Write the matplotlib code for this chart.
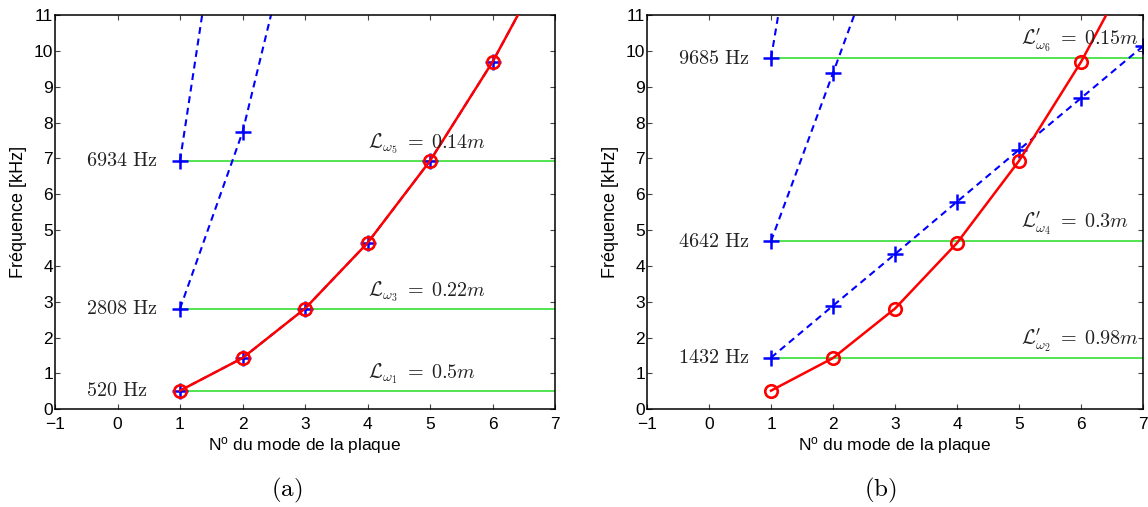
import matplotlib
matplotlib.use('Agg')
import matplotlib.pyplot as plt

plt.rcParams['font.family'] = ['Liberation Sans', 'DejaVu Sans']
plt.rcParams['mathtext.fontset'] = 'custom'
plt.rcParams['mathtext.rm'] = 'Liberation Sans'
plt.rcParams['mathtext.it'] = 'Liberation Sans:italic'

# ---------------- data ----------------
modes = [1, 2, 3, 4, 5, 6, 7]
plate_freq = [0.52, 1.43, 2.81, 4.64, 6.93, 9.69, 12.91]   # kHz (red)

# panel (a) blue branches
a_branch1 = [0.52, 1.43, 2.81, 4.64, 6.93, 9.69, 12.91]
a_branch2_x = [1, 2, 3]
a_branch2 = [2.808, 7.73, 14.9]
a_branch3_x = [1, 2]
a_branch3 = [6.934, 18.4]
a_levels = [0.52, 2.808, 6.934]
a_hz_labels = ['520 Hz', '2808 Hz', '6934 Hz']
a_L_labels = [r'$\mathcal{L}_{\omega_1}\;=\;0.5m$',
              r'$\mathcal{L}_{\omega_3}\;=\;0.22m$',
              r'$\mathcal{L}_{\omega_5}\;=\;0.14m$']

# panel (b) blue branches
b_branch1 = [1.44, 2.89, 4.33, 5.79, 7.24, 8.68, 10.13]
b_branch2_x = [1, 2, 3]
b_branch2 = [4.69, 9.38, 14.1]
b_branch3_x = [1, 2]
b_branch3 = [9.79, 20.1]
b_levels = [1.44, 4.69, 9.79]
b_hz_labels = ['1432 Hz', '4642 Hz', '9685 Hz']
b_L_labels = [r"$\mathcal{L}^{\prime}_{\omega_2}\;=\;0.98m$",
              r"$\mathcal{L}^{\prime}_{\omega_4}\;=\;0.3m$",
              r"$\mathcal{L}^{\prime}_{\omega_6}\;=\;0.15m$"]

xticks = list(range(-1, 8))
yticks = list(range(0, 12))

W, H = 1148, 507
fig = plt.figure(figsize=(W / 100, H / 100), dpi=100)

GREEN = '#44e044'
BLUE = '#0000ff'
RED = '#ff0000'
DASH = (0, (3.3, 2.3))


def frac(l, r, t, b):
    return [l / W, 1 - b / H, (r - l) / W, (b - t) / H]


def style(ax):
    ax.set_xlim(-1, 7)
    ax.set_ylim(0, 11)
    ax.set_xticks(xticks)
    ax.set_yticks(yticks)
    ax.set_xticklabels([('\u2212' + str(-v)) if v < 0 else str(v) for v in xticks])
    ax.tick_params(direction='in', top=True, right=True, length=3.5, width=0.8,
                   color='#444444', labelsize=12.5)
    ax.tick_params(axis='x', pad=5.5)
    ax.tick_params(axis='y', pad=1.5)
    for s in ax.spines.values():
        s.set_linewidth(1.1)
    ax.set_ylabel('Fréquence [kHz]', fontsize=13)
    ax.set_xlabel(r'N$^{\mathrm{o}}$ du mode de la plaque', fontsize=12.5)
    ax.yaxis.set_label_coords(-0.056, 0.5)
    ax.xaxis.set_label_coords(0.5, -0.066)


def draw(ax, branches, levels, hz_labels):
    for y in levels:
        ax.hlines(y, 1, 7, color=GREEN, lw=1.3, zorder=1)
    for bx, by in branches:
        ax.plot(bx, by, color=BLUE, ls=DASH, lw=1.5, marker='+', ms=11.5,
                mew=1.8, zorder=2)
    ax.plot(modes, plate_freq, color=RED, lw=1.8, marker='o', ms=9,
            mfc='none', mew=1.9, zorder=3)
    for y, t in zip(levels, hz_labels):
        ax.text(-0.5, y, r'$\mathrm{' + t.replace(' ', r'\ ') + '}$',
                ha='left', va='center', fontsize=14.5, math_fontfamily='cm',
                color='#222222')


ax1 = fig.add_axes(frac(55, 555, 15, 409.3))
style(ax1)
draw(ax1, [(modes, a_branch1), (a_branch2_x, a_branch2), (a_branch3_x, a_branch3)],
     a_levels, a_hz_labels)
for y, t in zip(a_levels, a_L_labels):
    ax1.text(4.0, y + 0.36, t, ha='left', va='baseline', fontsize=14.5,
             math_fontfamily='cm', color='#222222')

ax2 = fig.add_axes(frac(647, 1143, 15, 409.3))
style(ax2)
draw(ax2, [(modes, b_branch1), (b_branch2_x, b_branch2), (b_branch3_x, b_branch3)],
     b_levels, b_hz_labels)
for y, t in zip(b_levels, b_L_labels):
    ax2.text(5.04, y + 0.38, t, ha='left', va='baseline', fontsize=14.5,
             math_fontfamily='cm', color='#222222')

fig.text(287 / W, 1 - 490 / H, '$\\mathrm{(a)}$', ha='center', va='center',
         fontsize=18, math_fontfamily='cm')
fig.text(880 / W, 1 - 490 / H, '$\\mathrm{(b)}$', ha='center', va='center',
         fontsize=18, math_fontfamily='cm')

fig.savefig('out.png', dpi=100)
